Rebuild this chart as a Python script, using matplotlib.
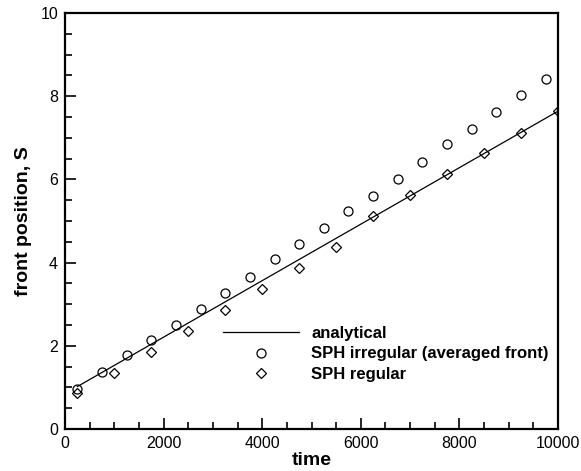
import matplotlib
matplotlib.use("Agg")
import matplotlib.pyplot as plt
from matplotlib.ticker import MultipleLocator

plt.rcParams['font.family'] = ['Liberation Sans', 'DejaVu Sans']

# analytical solution
t_analytical = [250, 10000]
s_analytical = [1.02, 7.64]

# SPH irregular (averaged front)
t_irregular = [250, 750, 1250, 1750, 2250, 2750, 3250, 3750, 4250, 4750,
               5250, 5750, 6250, 6750, 7250, 7750, 8250, 8750, 9250, 9750]
s_irregular = [0.96, 1.38, 1.79, 2.13, 2.50, 2.88, 3.26, 3.65, 4.09, 4.44,
               4.84, 5.25, 5.61, 6.02, 6.41, 6.84, 7.20, 7.63, 8.03, 8.41]

# SPH regular
t_regular = [250, 1000, 1750, 2500, 3250, 4000, 4750, 5500, 6250, 7000,
             7750, 8500, 9250, 10000]
s_regular = [0.86, 1.35, 1.86, 2.36, 2.86, 3.37, 3.88, 4.38, 5.12, 5.63,
             6.13, 6.63, 7.12, 7.64]

fig = plt.figure(figsize=(5.81, 4.71), dpi=100)
ax = fig.add_axes([65 / 581, 1 - 429 / 471, (558 - 65) / 581, (429 - 13) / 471])

ax.plot(t_analytical, s_analytical, color="black", lw=0.9, label="analytical")
ax.plot(t_irregular, s_irregular, ls="none", marker="o", ms=6.5, mfc="none",
        mec="black", mew=0.9, label="SPH irregular (averaged front)")
ax.plot(t_regular, s_regular, ls="none", marker="D", ms=5, mfc="none",
        mec="black", mew=0.9, label="SPH regular")

ax.set_xlim(0, 10000)
ax.set_ylim(0, 10)
ax.xaxis.set_major_locator(MultipleLocator(2000))
ax.xaxis.set_minor_locator(MultipleLocator(500))
ax.yaxis.set_major_locator(MultipleLocator(2))
ax.yaxis.set_minor_locator(MultipleLocator(0.5))
ax.tick_params(which="both", direction="in", labelsize=11.5, width=1.2)
ax.tick_params(which="major", length=8, pad=5)
ax.tick_params(which="minor", length=5)
for sp in ax.spines.values():
    sp.set_linewidth(1.6)

ax.set_xlabel("time", fontsize=14, fontweight="bold", labelpad=1)
ax.set_ylabel("front position, S", fontsize=14, fontweight="bold", labelpad=6)

leg = ax.legend(loc="lower left", bbox_to_anchor=(0.29, 0.077), frameon=False,
                handlelength=4.55, handletextpad=0.75, labelspacing=0.33,
                prop={"weight": "bold", "size": 12})

fig.savefig("out.png", dpi=100)
